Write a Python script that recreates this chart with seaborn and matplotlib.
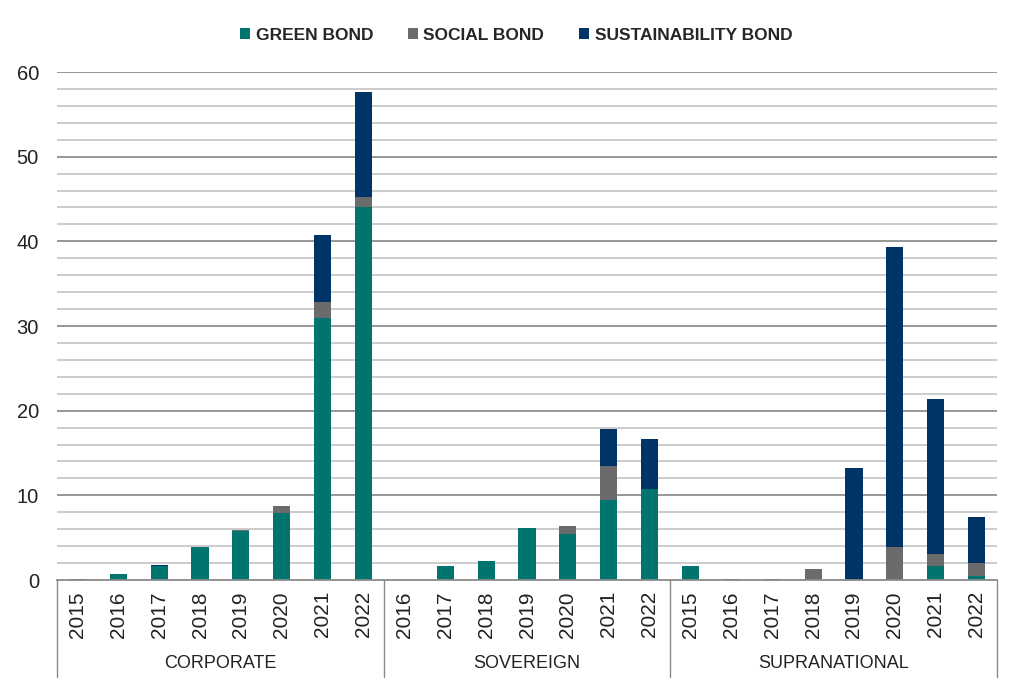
import pandas as pd
import matplotlib.pyplot as plt
import matplotlib.transforms as mtransforms
from matplotlib.patches import Patch
import seaborn as sns
import numpy as np

# --- data (USD bn) ---
GROUPS = ['CORPORATE', 'SOVEREIGN', 'SUPRANATIONAL']
YEARS = {
    'CORPORATE': ['2015', '2016', '2017', '2018', '2019', '2020', '2021', '2022'],
    'SOVEREIGN': ['2016', '2017', '2018', '2019', '2020', '2021', '2022'],
    'SUPRANATIONAL': ['2015', '2016', '2017', '2018', '2019', '2020', '2021', '2022'],
}
green_bond = [0.1, 0.7, 1.7, 3.9, 5.8, 7.9, 30.9, 44.0,
              0.0, 1.6, 2.2, 6.1, 5.4, 9.5, 10.7,
              1.6, 0.1, 0.0, 0.0, 0.0, 0.0, 1.7, 0.5]
social_bond = [0.0, 0.0, 0.0, 0.0, 0.1, 0.85, 1.9, 1.2,
               0.0, 0.0, 0.0, 0.0, 1.0, 4.0, 0.0,
               0.0, 0.0, 0.1, 1.3, 0.0, 3.9, 1.4, 1.5]
sustainability_bond = [0.0, 0.0, 0.1, 0.05, 0.0, 0.0, 8.0, 12.4,
                       0.0, 0.0, 0.0, 0.0, 0.0, 4.3, 6.0,
                       0.0, 0.0, 0.0, 0.0, 13.2, 35.4, 18.3, 5.5]

SERIES = ['GREEN BOND', 'SOCIAL BOND', 'SUSTAINABILITY BOND']
COLORS = {'GREEN BOND': '#00746f', 'SOCIAL BOND': '#6b6b6b', 'SUSTAINABILITY BOND': '#003366'}


def main():
    keys, years, groups = [], [], []
    for g in GROUPS:
        for y in YEARS[g]:
            keys.append(f'{g} {y}')
            years.append(y)
            groups.append(g)

    df = pd.DataFrame({'key': keys, 'year': years, 'group': groups,
                       'green': green_bond, 'social': social_bond,
                       'sust': sustainability_bond})
    # cumulative tops for overlay stacking
    df['top_social'] = df['green'] + df['social']
    df['top_sust'] = df['top_social'] + df['sust']

    sns.set_theme(style='white')
    plt.rcParams['font.family'] = ['Liberation Sans', 'DejaVu Sans']

    fig = plt.figure(figsize=(10.24, 6.82), dpi=100)
    ax = fig.add_axes([57 / 1024, 1 - 580 / 682, 940 / 1024, 508 / 682])

    # gridlines first (below bars)
    for v in np.arange(2, 61, 2):
        major = v % 10 == 0
        ax.axhline(v, color='#8f8f8f' if major else '#c4c4c4',
                   lw=1.3 if major else 1.2, zorder=0)

    bw = 0.42
    for col, name in [('top_sust', 'SUSTAINABILITY BOND'),
                      ('top_social', 'SOCIAL BOND'),
                      ('green', 'GREEN BOND')]:
        sns.barplot(data=df, x='key', y=col, order=keys, ax=ax,
                    color=COLORS[name], width=bw, saturation=1,
                    edgecolor='none', linewidth=0, zorder=2)

    ax.set_xlim(-0.5, len(keys) - 0.5)
    ax.set_ylim(0, 60)
    ax.set_yticks(np.arange(0, 61, 10))
    ax.set_yticklabels([str(v) for v in range(0, 61, 10)], fontsize=14.5, color='#222222')
    ax.set_xticks(range(len(keys)))
    ax.set_xticklabels(years, rotation=90, fontsize=15, color='#222222')
    ax.tick_params(axis='x', length=0, pad=8)
    ax.tick_params(axis='y', length=0, pad=13)
    ax.set_xlabel('')
    ax.set_ylabel('')
    for s in ['top', 'right', 'left']:
        ax.spines[s].set_visible(False)
    ax.spines['bottom'].set_color('#8a8a8a')
    ax.spines['bottom'].set_linewidth(1.3)

    # group separators and labels below the axis
    trans = mtransforms.blended_transform_factory(ax.transData, ax.transAxes)
    bottom = -(677 - 580) / 508
    edges = [-0.5]
    start = 0
    for g in GROUPS:
        n = len(YEARS[g])
        edges.append(start + n - 0.5)
        ax.text(start + (n - 1) / 2, -(663 - 580) / 508, g, transform=trans,
                ha='center', va='center', fontsize=13, color='#222222')
        start += n
    for e in edges:
        ax.plot([e, e], [0, bottom], transform=trans, color='#8a8a8a',
                lw=1.0, clip_on=False)

    handles = [Patch(facecolor=COLORS[s], edgecolor='none', label=s) for s in SERIES]
    fig.legend(handles=handles, loc='center', bbox_to_anchor=(0.504, 1 - 35 / 682),
               ncol=3, frameon=False, handlelength=0.6, handleheight=0.6,
               handletextpad=0.3, columnspacing=2.0,
               prop={'family': ['Liberation Sans', 'DejaVu Sans'],
                     'weight': 'bold', 'size': 12.5})

    plt.savefig('out.png', dpi=100)


if __name__ == '__main__':
    main()
